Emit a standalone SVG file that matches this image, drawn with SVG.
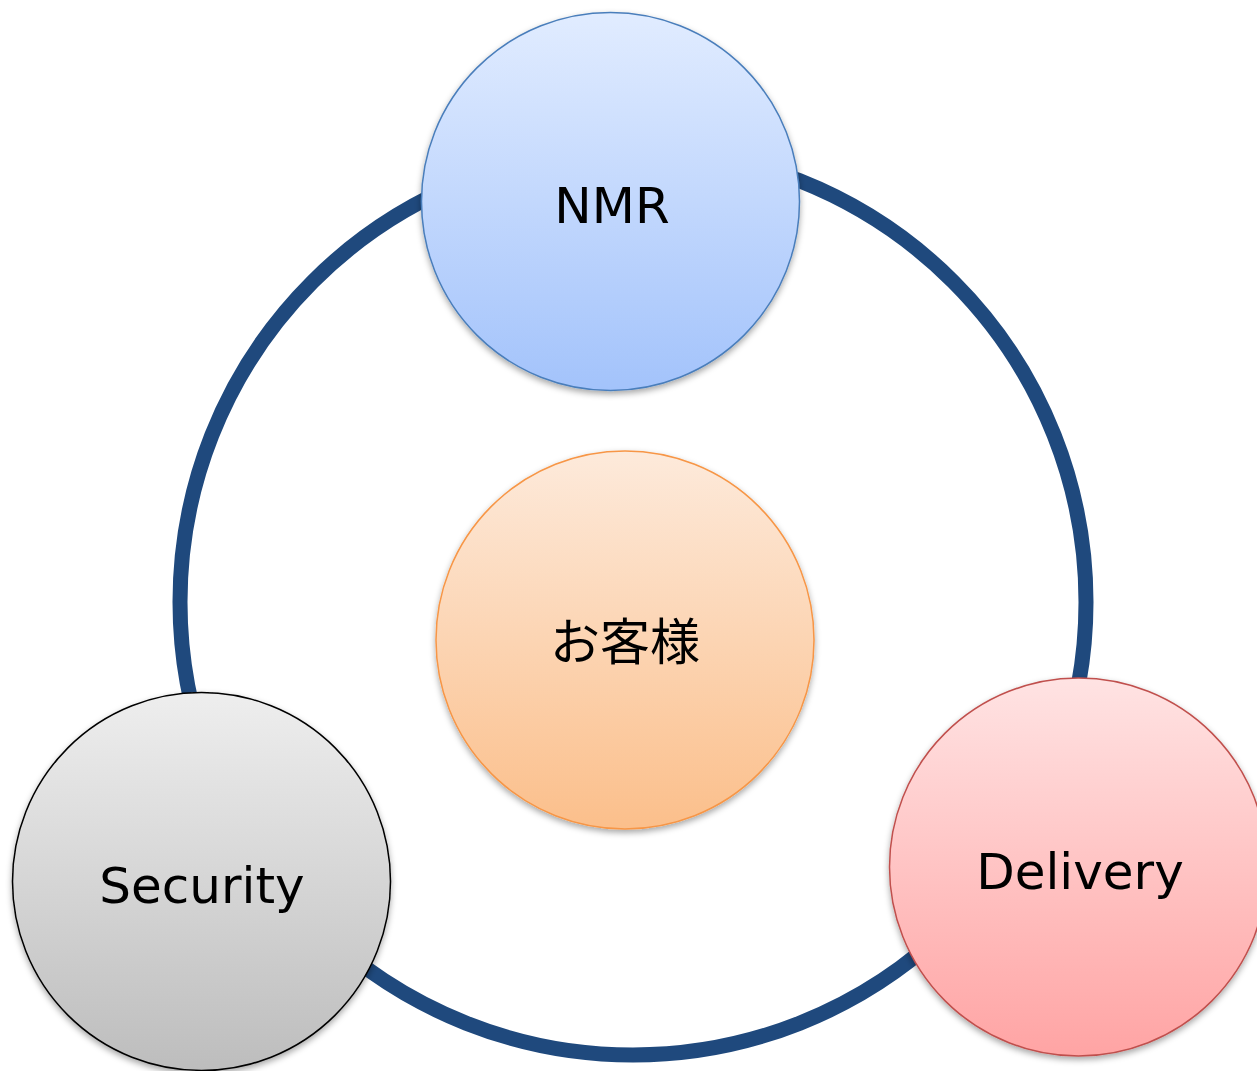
<svg xmlns="http://www.w3.org/2000/svg" width="1257" height="1071" viewBox="0 0 1257 1071">
  <style>
    .lbl { font-family: "DejaVu Sans", Verdana, sans-serif; font-size: 50px; fill: #000; text-anchor: middle; }
    .cjk { font-family: "Noto Sans CJK JP", "Noto Sans CJK SC", sans-serif; font-size: 50px; fill: #000; text-anchor: middle; }
    .node { stroke-width: 1.5; filter: url(#sh); }
  </style>
  <defs>
    <filter id="sh" x="-10%" y="-10%" width="120%" height="125%">
      <feDropShadow dx="0" dy="3" stdDeviation="3" flood-color="#000" flood-opacity="0.35"/>
    </filter>
    <linearGradient id="gBlue" x1="0" y1="0" x2="0" y2="1">
      <stop offset="0" stop-color="#e1ecff"/>
      <stop offset="1" stop-color="#a3c3fb"/>
    </linearGradient>
    <linearGradient id="gOrange" x1="0" y1="0" x2="0" y2="1">
      <stop offset="0" stop-color="#fdeadb"/>
      <stop offset="1" stop-color="#fbbf8b"/>
    </linearGradient>
    <linearGradient id="gGray" x1="0" y1="0" x2="0" y2="1">
      <stop offset="0" stop-color="#eeeeee"/>
      <stop offset="1" stop-color="#bdbdbd"/>
    </linearGradient>
    <linearGradient id="gRed" x1="0" y1="0" x2="0" y2="1">
      <stop offset="0" stop-color="#ffe3e3"/>
      <stop offset="1" stop-color="#ffa4a4"/>
    </linearGradient>
  </defs>
  <rect width="1257" height="1071" fill="#ffffff"/>
  <g id="connectors">
    <circle cx="633" cy="602" r="453" fill="none" stroke="#1f497d" stroke-width="15"/>
  </g>
  <g id="node-customer">
    <circle class="node" cx="625" cy="640" r="189" fill="url(#gOrange)" stroke="#f79646"/>
    <text class="cjk" x="625" y="660">お客様</text>
  </g>
  <g id="node-nmr">
    <circle class="node" cx="610.5" cy="201.5" r="189" fill="url(#gBlue)" stroke="#4a7ebb"/>
    <text class="lbl" x="612" y="223">NMR</text>
  </g>
  <g id="node-security">
    <circle class="node" cx="201.5" cy="881.5" r="189" fill="url(#gGray)" stroke="#000000"/>
    <text class="lbl" x="202" y="903">Security</text>
  </g>
  <g id="node-delivery">
    <circle class="node" cx="1078.5" cy="867" r="189" fill="url(#gRed)" stroke="#c0504d"/>
    <text class="lbl" x="1080" y="889">Delivery</text>
  </g>
</svg>
